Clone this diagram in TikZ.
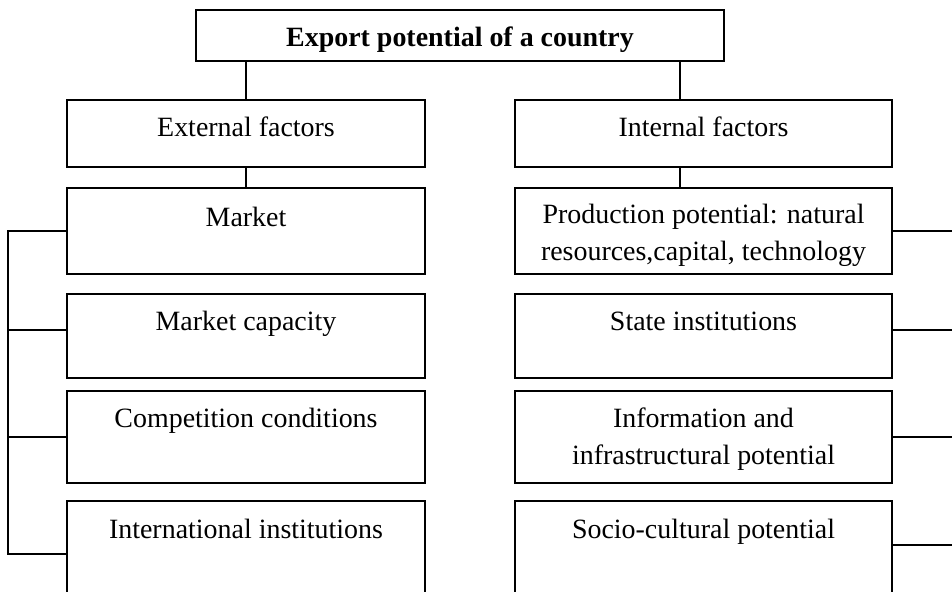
\documentclass[tikz,border=0pt]{standalone}
\usepackage{fontspec}
\setmainfont{Liberation Serif}
\begin{document}
\begin{tikzpicture}[x=0.02cm, y=-0.02cm, line width=1pt,
    box/.style={draw, rectangle, inner sep=0pt},
    leftbox/.style={box, minimum width=7.16cm},
    rightbox/.style={box, minimum width=7.54cm},
    txt/.style={anchor=base, align=center, font=\fontsize{15.9}{21}\selectfont}]

      \clip (0,0) rectangle (952,591);

      %cadre du haut
      \node [box, minimum width=10.56cm, minimum height=1.02cm] (export) at (460,35.5) {};
      \node [txt, font=\bfseries\fontsize{15.9}{21}\selectfont] (t-export) at (460,47) {Export potential of a country};

      %colonne gauche
      \node [leftbox, minimum height=1.34cm] (external) at (246,133.5) {};
      \node [leftbox, minimum height=1.72cm] (market) at (246,231) {};
      \node [leftbox, minimum height=1.68cm] (capacity) at (246,336) {};
      \node [leftbox, minimum height=1.84cm] (competition) at (246,437) {};
      \node [leftbox, minimum height=2.76cm] (international) at (246,570) {};

      \node [txt] (t-external) at (246,137) {External factors};
      \node [txt] (t-market) at (246,226) {Market};
      \node [txt] (t-capacity) at (246,330.5) {Market capacity};
      \node [txt] (t-competition) at (246,427) {Competition conditions};
      \node [txt] (t-international) at (246,538) {International institutions};

      %colonne droite
      \node [rightbox, minimum height=1.34cm] (internal) at (703.5,133.5) {};
      \node [rightbox, minimum height=1.72cm] (production) at (703.5,231) {};
      \node [rightbox, minimum height=1.68cm] (state) at (703.5,336) {};
      \node [rightbox, minimum height=1.84cm] (information) at (703.5,437) {};
      \node [rightbox, minimum height=2.76cm] (sociocultural) at (703.5,570) {};

      \node [txt] (t-internal) at (703.5,137) {Internal factors};
      \node [txt] (t-production) at (703.5,260) {Production potential: natural\\resources,capital, technology};
      \node [txt] (t-state) at (703.5,330.5) {State institutions};
      \node [txt] (t-information) at (703.5,464) {Information and\\infrastructural potential};
      \node [txt] (t-sociocultural) at (703.5,538) {Socio-cultural potential};

      %liaisons verticales
      \draw (external.north) -- (external.north |- export.south);
      \draw ([xshift=-0.47cm]internal.north) -- ([xshift=-0.47cm]internal.north |- export.south);
      \draw (external.south) -- (market.north);
      \draw ([xshift=-0.47cm]internal.south) -- ([xshift=-0.47cm]production.north);

      %accolade gauche
      \coordinate (lrail) at (8,0);
      \coordinate (lend) at ([yshift=-1.08cm]international.north west);
      \draw (market.west) -- (market.west -| lrail) -- (lend -| lrail) -- (lend);
      \draw ([yshift=0.12cm]capacity.west) -- ([yshift=0.12cm]capacity.west -| lrail);
      \draw (competition.west) -- (competition.west -| lrail);

      %accolade droite
      \coordinate (rrail) at (960,0);
      \draw (production.east) -- (production.east -| rrail);
      \draw ([yshift=0.12cm]state.east) -- ([yshift=0.12cm]state.east -| rrail);
      \draw (information.east) -- (information.east -| rrail);
      \draw ([yshift=-0.9cm]sociocultural.north east) -- ([yshift=-0.9cm]sociocultural.north east -| rrail);

\end{tikzpicture}
\end{document}
